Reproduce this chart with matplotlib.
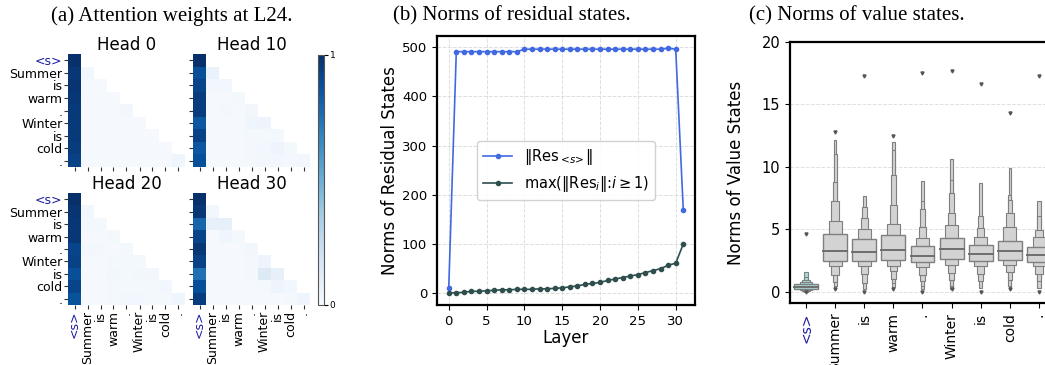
import matplotlib
matplotlib.use('Agg')
import matplotlib.pyplot as plt
from matplotlib.patches import Rectangle
import numpy as np

tokens = ['<s>', 'Summer', 'is', 'warm', '.', 'Winter', 'is', 'cold', '.']
bos_color = '#1c1ca0'

# attention weights at layer 24 (lower triangle, row = query token)
head_names = ['Head 0', 'Head 10', 'Head 20', 'Head 30']
attn_head0 = [
    [1.00],
    [0.97, 0.03],
    [0.98, 0.01, 0.01],
    [0.97, 0.01, 0.01, 0.01],
    [0.96, 0.01, 0.01, 0.01, 0.03],
    [0.96, 0.01, 0.01, 0.01, 0.01, 0.01],
    [0.96, 0.01, 0.01, 0.01, 0.01, 0.01, 0.01],
    [0.95, 0.01, 0.01, 0.01, 0.01, 0.01, 0.01, 0.01],
    [0.93, 0.01, 0.01, 0.01, 0.01, 0.01, 0.01, 0.01, 0.04],
]
attn_head10 = [
    [1.00],
    [0.88, 0.07],
    [0.92, 0.03, 0.03],
    [0.95, 0.01, 0.01, 0.02],
    [0.95, 0.01, 0.02, 0.01, 0.03],
    [0.85, 0.01, 0.01, 0.01, 0.04, 0.05],
    [0.93, 0.01, 0.01, 0.01, 0.02, 0.02, 0.02],
    [0.85, 0.01, 0.01, 0.01, 0.02, 0.03, 0.05, 0.02],
    [0.88, 0.01, 0.01, 0.01, 0.02, 0.03, 0.03, 0.02, 0.03],
]
attn_head20 = [
    [1.00],
    [0.98, 0.03],
    [0.97, 0.02, 0.02],
    [0.97, 0.01, 0.01, 0.02],
    [0.92, 0.03, 0.02, 0.01, 0.02],
    [0.93, 0.01, 0.01, 0.02, 0.02, 0.02],
    [0.88, 0.01, 0.01, 0.03, 0.02, 0.03, 0.03],
    [0.92, 0.01, 0.01, 0.02, 0.02, 0.02, 0.02, 0.03],
    [0.87, 0.01, 0.01, 0.02, 0.03, 0.03, 0.02, 0.02, 0.04],
]
attn_head30 = [
    [1.00],
    [0.97, 0.03],
    [0.80, 0.08, 0.08],
    [0.92, 0.01, 0.04, 0.02],
    [0.97, 0.01, 0.01, 0.01, 0.03],
    [0.93, 0.01, 0.01, 0.01, 0.02, 0.05],
    [0.75, 0.01, 0.01, 0.01, 0.02, 0.13, 0.08],
    [0.88, 0.01, 0.01, 0.01, 0.01, 0.02, 0.05, 0.03],
    [0.95, 0.01, 0.01, 0.01, 0.01, 0.01, 0.01, 0.02, 0.04],
]

# residual state norms per layer
layers = list(range(32))
res_bos = [10, 491, 491, 491, 491, 491, 491, 491, 491, 491,
           496, 496, 496, 496, 496, 496, 496, 496, 496, 496,
           496, 496, 496, 496, 496, 496, 496, 496, 496, 498,
           496, 170]
res_max = [1, 1, 2, 4, 4, 5, 6, 7, 7, 8,
           8, 8, 9, 9, 10, 11, 13, 15, 18, 20,
           22, 26, 29, 32, 35, 38, 42, 46, 50, 57,
           61, 100]

# value state norms: letter-value boxes (inner to outer), medians, outliers
val_medians = [0.42, 3.25, 3.15, 3.36, 2.88, 3.41, 3.04, 3.23, 2.96]
val_levels = [
    [(0.25, 0.60), (0.16, 0.75), (0.10, 0.95), (0.05, 1.20), (0.02, 1.60)],
    [(2.48, 4.61), (2.05, 5.65), (1.35, 7.30), (0.80, 8.77), (0.45, 11.0), (0.25, 12.15)],
    [(2.45, 4.20), (2.10, 5.04), (1.42, 5.90), (0.70, 6.75), (0.25, 7.63)],
    [(2.55, 4.53), (2.10, 5.42), (1.70, 6.98), (1.00, 9.38), (0.70, 11.36), (0.35, 12.0)],
    [(2.37, 3.68), (1.95, 4.29), (1.36, 5.17), (0.88, 6.61), (0.43, 7.23), (0.25, 8.83)],
    [(2.61, 4.29), (2.16, 5.36), (1.49, 6.29), (0.96, 7.89), (0.43, 8.96), (0.25, 10.6)],
    [(2.45, 3.76), (2.08, 4.35), (1.44, 5.09), (0.83, 6.03), (0.29, 8.69)],
    [(2.56, 4.03), (2.11, 5.17), (1.55, 6.29), (0.96, 7.36), (0.43, 7.76), (0.25, 9.89)],
    [(2.37, 3.55), (2.03, 4.37), (1.44, 4.96), (0.83, 6.03), (0.29, 7.23)],
]
val_out_hi = [4.6, 12.8, 17.3, 12.5, 17.5, 17.7, 16.6, 14.3, 17.3]
val_out_lo = [0.0, 0.2, 0.0, 0.25, 0.0, 0.2, 0.0, 0.25, 0.0]

level_widths = [0.82, 0.44, 0.25, 0.16, 0.11, 0.08]

W, H = 1045, 365
fig = plt.figure(figsize=(W / 100, H / 100), dpi=100)


def px_axes(x0, y0, x1, y1):
    return fig.add_axes([x0 / W, 1 - y1 / H, (x1 - x0) / W, (y1 - y0) / H])


# ---- (a) attention heatmaps
heads = [attn_head0, attn_head10, attn_head20, attn_head30]
boxes = [(68, 54, 185, 167), (193, 54, 310, 167),
         (68, 193, 185, 305), (193, 193, 310, 305)]
n = len(tokens)
for k, (rows, box) in enumerate(zip(heads, boxes)):
    ax = px_axes(*box)
    mat = np.full((n, n), np.nan)
    for i, row in enumerate(rows):
        mat[i, :len(row)] = row
    im = ax.imshow(np.ma.masked_invalid(mat), cmap='Blues', vmin=0, vmax=1,
                   aspect='auto', interpolation='nearest')
    for s in ax.spines.values():
        s.set_visible(False)
    ax.set_xticks(range(n))
    ax.set_yticks(range(n))
    ax.tick_params(length=3, width=0.8, color='#333333', pad=1)
    if k % 2 == 0:
        ax.set_yticklabels(tokens, fontsize=9)
        ax.get_yticklabels()[0].set_color(bos_color)
    else:
        ax.set_yticklabels([])
    if k >= 2:
        ax.set_xticklabels(tokens, fontsize=9, rotation=90)
        ax.get_xticklabels()[0].set_color(bos_color)
    else:
        ax.set_xticklabels([])
    ax.set_title(head_names[k], fontsize=12, pad=2)

cax = px_axes(318, 55, 324, 305)
cb = fig.colorbar(im, cax=cax, ticks=[0, 1])
cb.ax.set_yticklabels(['0', '1'])
cb.ax.tick_params(labelsize=6.5, length=3, width=0.8, pad=1)
cb.outline.set_edgecolor('#555555')
cb.outline.set_linewidth(0.8)

# ---- (b) residual norms
axb = px_axes(437, 36, 695, 305)
axb.plot(layers, res_bos, '-o', color='royalblue', lw=1.2, ms=3,
         label=r'$\Vert\mathrm{Res}_{<\!s\!>}\Vert$')
axb.plot(layers, res_max, '-o', color='darkslategray', lw=1.2, ms=3,
         label=r'max($\Vert\mathrm{Res}_i\Vert$:$i\geq 1$)')
axb.set_xticks(range(0, 31, 5))
axb.set_yticks(range(0, 501, 100))
axb.tick_params(labelsize=9.5)
axb.grid(True, ls='--', color='#dddddd', lw=0.7)
axb.set_axisbelow(True)
axb.set_xlabel('Layer', fontsize=12, labelpad=1)
axb.set_ylabel('Norms of Residual States', fontsize=12, labelpad=2)
for s in axb.spines.values():
    s.set_linewidth(1.6)
axb.legend(loc='center', fontsize=10.5, framealpha=0.9)

# ---- (c) value norms (letter-value boxes)
axc = px_axes(790, 42, 1055, 303)
for i in range(n):
    face = '#a6dcdc' if i == 0 else '#d3d3d3'
    levels = val_levels[i]
    for j in range(len(levels) - 1, -1, -1):
        lo, hi = levels[j]
        w = level_widths[j]
        axc.add_patch(Rectangle((i - w / 2, lo), w, hi - lo, facecolor=face,
                                edgecolor='#7f7f7f', lw=1.0 if j == 0 else 0.8,
                                zorder=3 + (len(levels) - j)))
    w0 = level_widths[0]
    axc.plot([i - w0 / 2, i + w0 / 2], [val_medians[i], val_medians[i]],
             color='#6e6e6e', lw=1.4, zorder=20)
    axc.plot([i, i], [val_out_hi[i], val_out_lo[i]], ls='none', marker='v',
             ms=2.2, color='#555555', zorder=20)
axc.set_xlim(-0.55, 8.55)
axc.set_ylim(-0.9, 20)
axc.set_yticks([0, 5, 10, 15, 20])
axc.set_xticks(range(n))
axc.set_xticklabels(tokens, rotation=90, fontsize=10)
axc.get_xticklabels()[0].set_color(bos_color)
axc.tick_params(axis='y', labelsize=10.5)
axc.grid(True, axis='y', ls='--', color='#e0e0e0', lw=0.7)
axc.set_axisbelow(True)
axc.set_ylabel('Norms of Value States', fontsize=12, labelpad=12)
for s in axc.spines.values():
    s.set_linewidth(1.6)

# ---- subfigure captions
cap = dict(fontsize=15, family='Liberation Serif', ha='center', va='center')
fig.text(172 / W, 1 - 16 / H, '(a) Attention weights at L24.', **cap)
fig.text(512 / W, 1 - 16 / H, '(b) Norms of residual states.', **cap)
fig.text(857 / W, 1 - 16 / H, '(c) Norms of value states.', **cap)

fig.savefig('out.png', dpi=100)
